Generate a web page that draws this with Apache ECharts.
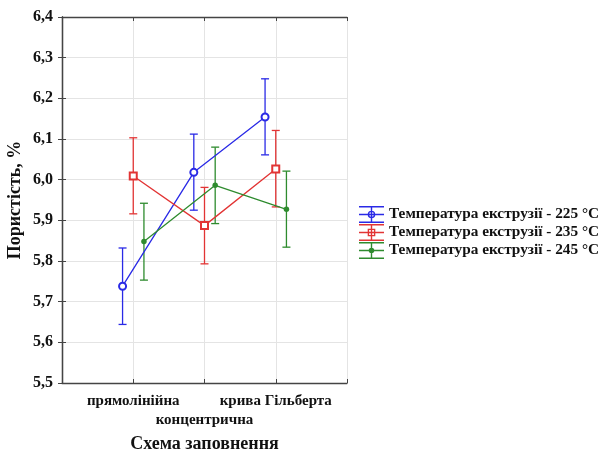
<!DOCTYPE html>
<html>
<head>
<meta charset="utf-8">
<script src="https://cdn.jsdelivr.net/npm/echarts@6/dist/echarts.min.js"></script>
<style>html,body{margin:0;padding:0;background:#fff}#c{width:603px;height:452px}</style>
</head>
<body>
<div id="c"></div>
<script>
var categories = ['прямолінійна', 'концентрична', 'крива Гільберта'];
var seriesNames = ['Температура екструзії - 225 °C', 'Температура екструзії - 235 °C', 'Температура екструзії - 245 °C'];
var mean225 = [5.738, 6.018, 6.154];
var low225  = [5.644, 5.925, 6.061];
var high225 = [5.832, 6.112, 6.248];
var mean235 = [6.009, 5.887, 6.026];
var low235  = [5.916, 5.793, 5.933];
var high235 = [6.103, 5.981, 6.121];
var mean245 = [5.848, 5.986, 5.927];
var low245  = [5.753, 5.892, 5.834];
var high245 = [5.942, 6.080, 6.021];
var yTicks = [5.5, 5.6, 5.7, 5.8, 5.9, 6.0, 6.1, 6.2, 6.3, 6.4];

var colors = ['#2a2ae6', '#e23434', '#2e8b2e'];
var offsets = [-0.15, 0, 0.15];
var means = [mean225, mean235, mean245];
var lows = [low225, low235, low245];
var highs = [high225, high235, high245];
var symbols = ['emptyCircle', 'emptyRect', 'circle'];
var symbolSizes = [7, 7, 5.5];

var serif = '"Liberation Serif", "DejaVu Serif", serif';

var lines = 'M0 0H25V1.4H0Z M0 7.8H25V9.2H0Z M0 15.6H25V17H0Z M11.8 0H13.2V17H11.8Z ';
var icons = [
  'path://' + lines + 'M8.7 8.5A3.8 3.8 0 1 1 16.3 8.5A3.8 3.8 0 1 1 8.7 8.5Z M10.1 8.5A2.4 2.4 0 1 0 14.9 8.5A2.4 2.4 0 1 0 10.1 8.5Z',
  'path://' + lines + 'M8.7 4.7H16.3V12.3H8.7Z M10.1 6.1V10.9H14.9V6.1Z',
  'path://' + lines + 'M9.7 8.5A2.8 2.8 0 1 1 15.3 8.5A2.8 2.8 0 1 1 9.7 8.5Z'
];

var series = [];
for (var s = 0; s < 3; s++) {
  var lineData = [], errData = [];
  for (var i = 0; i < categories.length; i++) {
    lineData.push([i + 1 + offsets[s], means[s][i]]);
    errData.push([i + 1 + offsets[s], lows[s][i], highs[s][i]]);
  }
  series.push({
    name: seriesNames[s],
    type: 'line',
    data: lineData,
    symbol: symbols[s],
    symbolSize: symbolSizes[s],
    itemStyle: { color: colors[s], borderWidth: 1.3 },
    lineStyle: { color: colors[s], width: 1.3 },
    z: 3,
    animation: false
  });
  (function (col) {
    series.push({
      name: seriesNames[s],
      type: 'custom',
      data: errData,
      z: 2,
      animation: false,
      renderItem: function (params, api) {
        var x = api.value(0);
        var p1 = api.coord([x, api.value(1)]);
        var p2 = api.coord([x, api.value(2)]);
        var hw = 4;
        var st = { stroke: col, lineWidth: 1.3, fill: null };
        return {
          type: 'group',
          children: [
            { type: 'line', shape: { x1: p1[0], y1: p1[1], x2: p2[0], y2: p2[1] }, style: st },
            { type: 'line', shape: { x1: p1[0] - hw, y1: p1[1], x2: p1[0] + hw, y2: p1[1] }, style: st },
            { type: 'line', shape: { x1: p2[0] - hw, y1: p2[1], x2: p2[0] + hw, y2: p2[1] }, style: st }
          ]
        };
      }
    });
  })(colors[s]);
}

var chart = echarts.init(document.getElementById('c'), null, { renderer: 'canvas' });
chart.setOption({
  backgroundColor: '#fff',
  animation: false,
  grid: { left: 62, right: 256, top: 17, bottom: 69, containLabel: false, outerBoundsMode: 'none' },
  legend: {
    orient: 'vertical',
    left: 354,
    top: 201,
    itemWidth: 25,
    itemHeight: 17,
    itemGap: 1,
    data: seriesNames.map(function (n, k) { return { name: n, icon: icons[k], itemStyle: { color: colors[k] } }; }),
    textStyle: { fontFamily: serif, fontWeight: 'bold', fontSize: 15.3, color: '#111' }
  },
  xAxis: [{
    type: 'value', min: 0, max: 4, interval: 1,
    name: 'Схема заповнення', nameLocation: 'middle', nameGap: 52,
    nameTextStyle: { fontFamily: serif, fontWeight: 'bold', fontSize: 18, color: '#111' },
    axisLine: { show: true, lineStyle: { color: '#444', width: 1.3 } },
    axisTick: { show: true, inside: true, length: 4, lineStyle: { color: '#444' } },
    axisLabel: {
      margin: 9, fontFamily: serif, fontWeight: 'bold', fontSize: 15, color: '#111', lineHeight: 19,
      formatter: function (v) {
        var idx = Math.round(v) - 1;
        if (idx < 0 || idx >= categories.length) return '';
        return idx === 1 ? '\n' + categories[idx] : categories[idx];
      }
    },
    splitLine: { show: true, lineStyle: { color: '#e4e4e4', width: 1 } }
  }, {
    type: 'value', min: 0, max: 4, interval: 1, position: 'top',
    axisLine: { show: true, lineStyle: { color: '#444', width: 1.3 } },
    axisTick: { show: true, inside: true, length: 4, lineStyle: { color: '#444' } },
    axisLabel: { show: false }, splitLine: { show: false }
  }],
  yAxis: [{
    type: 'value', min: yTicks[0], max: yTicks[yTicks.length - 1], interval: 0.1,
    name: 'Пористість, %', nameLocation: 'middle', nameGap: 38,
    nameTextStyle: { fontFamily: serif, fontWeight: 'bold', fontSize: 18, color: '#111' },
    axisLine: { show: true, lineStyle: { color: '#444', width: 1.3 } },
    axisTick: { show: true, inside: true, length: 4, lineStyle: { color: '#444' } },
    axisLabel: {
      margin: 9, fontFamily: serif, fontWeight: 'bold', fontSize: 16, color: '#111',
      formatter: function (v) { return v.toFixed(1).replace('.', ','); }
    },
    splitLine: { show: true, lineStyle: { color: '#e4e4e4', width: 1 } }
  }, {
    type: 'value', min: yTicks[0], max: yTicks[yTicks.length - 1], interval: 0.1, position: 'right',
    axisLine: { show: true, lineStyle: { color: '#444', width: 1.3 } },
    axisTick: { show: true, inside: true, length: 4, lineStyle: { color: '#444' } },
    axisLabel: { show: false }, splitLine: { show: false }
  }],
  series: series
});
</script>
</body>
</html>
